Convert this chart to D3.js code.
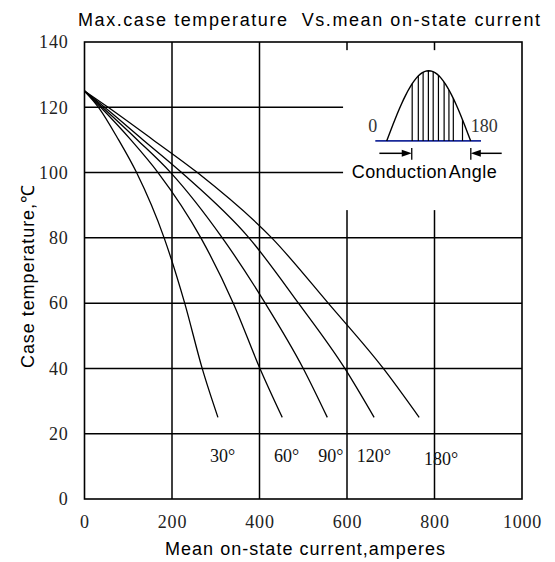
<!DOCTYPE html>
<html><head><meta charset="utf-8">
<script src="https://cdn.jsdelivr.net/npm/d3@7"></script>
<style>
body{margin:0;background:#fff}
.sans{font-family:"Liberation Sans",Arial,Helvetica,sans-serif}
.serif{font-family:"Liberation Serif","Times New Roman",serif}
</style>
</head><body>
<svg id="c" width="555" height="562"></svg>
<script>
// ---- data ----
const angleLabels = ["30°", "60°", "90°", "120°", "180°"];
const caseTemps   = [125, 120, 110, 100, 80, 60, 40, 25];
const current30   = [0, 32, 78, 119, 182, 229, 269, 305];
const current60   = [0, 37, 106, 168, 266, 340, 401, 452];
const current90   = [0, 41, 121, 197, 315, 413, 500, 555];
const current120  = [0, 46, 134, 222, 376, 489, 595, 662];
const current180  = [0, 54, 157, 258, 428, 557, 683, 765];
const xTickValues = [0, 200, 400, 600, 800, 1000];
const yTickValues = [0, 20, 40, 60, 80, 100, 120, 140];
const titleText  = "Max.case temperature  Vs.mean on-state current";
const xTitleText = "Mean on-state current,amperes";
const yTitleText = "Case temperature,℃";

const seriesCurrents = [current30, current60, current90, current120, current180];

// ---- layout ----
const svg = d3.select("#c");
const x = d3.scaleLinear().domain([0, 1000]).range([84.5, 522]);
const y = d3.scaleLinear().domain([0, 140]).range([499, 42]);

// grid
const g = svg.append("g");
g.selectAll("line.v").data(xTickValues.slice(1, -1)).join("line")
  .attr("x1", d => x(d)).attr("x2", d => x(d))
  .attr("y1", y(140)).attr("y2", y(0))
  .attr("stroke", "#000").attr("stroke-width", 1.5);
g.selectAll("line.h").data(yTickValues.slice(1, -1)).join("line")
  .attr("x1", x(0)).attr("x2", x(1000))
  .attr("y1", d => y(d)).attr("y2", d => y(d))
  .attr("stroke", "#000").attr("stroke-width", 1.5);

// white area behind inset
svg.append("rect")
  .attr("x", x(591)).attr("y", y(137.5))
  .attr("width", x(1000) - x(591)).attr("height", y(88.5) - y(137.5))
  .attr("fill", "#fff");

// frame
svg.append("rect")
  .attr("x", x(0)).attr("y", y(140))
  .attr("width", x(1000) - x(0)).attr("height", y(0) - y(140))
  .attr("fill", "none").attr("stroke", "#000").attr("stroke-width", 1.6);

// axes (labels only)
const xAxis = d3.axisBottom(x).tickValues(xTickValues).tickSize(0).tickPadding(16).tickFormat(d3.format("d"));
const yAxis = d3.axisLeft(y).tickValues(yTickValues).tickSize(0).tickPadding(16).tickFormat(d3.format("d"));
const gx = svg.append("g").attr("transform", `translate(0,${y(0)})`).call(xAxis);
const gy = svg.append("g").attr("transform", `translate(${x(0)},0)`).call(yAxis);
[gx, gy].forEach(a => {
  a.select(".domain").remove();
  a.selectAll("text").attr("class", "serif").attr("font-size", 18)
    .attr("fill", "#222").style("letter-spacing", "0.8px");
});

// curves
const line = d3.line().x(d => x(d[0])).y(d => y(d[1])).curve(d3.curveMonotoneX);
seriesCurrents.forEach(arr => {
  svg.append("path")
    .datum(arr.map((c, i) => [c, caseTemps[i]]))
    .attr("d", line)
    .attr("fill", "none").attr("stroke", "#000").attr("stroke-width", 1.3);
});

// angle labels
const labelCurrent = [287, 433, 534, 622, 776];
const labelTemp    = [11.4, 11.4, 11.4, 11.4, 10.4];
svg.selectAll("text.ang").data(angleLabels).join("text")
  .attr("class", "serif").attr("font-size", 18).attr("fill", "#111")
  .attr("x", (d, i) => x(labelCurrent[i])).attr("y", (d, i) => y(labelTemp[i]))
  .text(d => d);

// titles
svg.append("text").attr("class", "sans").attr("font-size", 18).attr("fill", "#000")
  .attr("x", 78).attr("y", 26).attr("textLength", 462).attr("lengthAdjust", "spacing")
  .style("white-space", "pre").text(titleText);
svg.append("text").attr("class", "sans").attr("font-size", 18).attr("fill", "#000")
  .attr("x", 165).attr("y", 555).attr("textLength", 280).attr("lengthAdjust", "spacing")
  .text(xTitleText);
svg.append("text").attr("class", "sans").attr("font-size", 18).attr("fill", "#000")
  .attr("transform", "translate(34,368) rotate(-90)")
  .attr("textLength", 183).attr("lengthAdjust", "spacing")
  .text(yTitleText);

// ---- inset: conduction angle sketch ----
const humpStart = 690.7, humpEnd = 882.7, humpBase = 109.7, humpPeak = 131.2;
const hatchCurrents = [749, 763, 774, 786, 797, 809, 822, 833, 843, 864];
const humpY = c => humpBase + (humpPeak - humpBase) * Math.sin(Math.PI * (c - humpStart) / (humpEnd - humpStart));
const ins = svg.append("g");
ins.append("line").attr("x1", x(664.7)).attr("x2", x(906.3))
  .attr("y1", y(humpBase)).attr("y2", y(humpBase))
  .attr("stroke", "#1a2a9a").attr("stroke-width", 1.6);
ins.append("path")
  .datum(d3.range(0, 41).map(k => humpStart + (humpEnd - humpStart) * k / 40))
  .attr("d", d3.line().x(c => x(c)).y(c => y(humpY(c))))
  .attr("fill", "none").attr("stroke", "#000").attr("stroke-width", 1.4);
ins.selectAll("line.hatch").data(hatchCurrents).join("line")
  .attr("x1", c => x(c)).attr("x2", c => x(c))
  .attr("y1", y(humpBase)).attr("y2", c => y(humpY(c)))
  .attr("stroke", "#000").attr("stroke-width", 1.2);
ins.append("text").attr("class", "serif").attr("font-size", 18).attr("fill", "#333")
  .attr("x", x(659)).attr("y", y(112.5)).attr("text-anchor", "middle").text("0");
ins.append("text").attr("class", "serif").attr("font-size", 18).attr("fill", "#333")
  .attr("x", x(883)).attr("y", y(112.5)).text("180");
// arrows
const arrowT = 105.9;
const ay = y(arrowT);
ins.append("line").attr("x1", x(674)).attr("x2", x(748) - 8).attr("y1", ay).attr("y2", ay)
  .attr("stroke", "#000").attr("stroke-width", 1.5);
ins.append("path").attr("d", `M${x(748)},${ay} l-10,-3.5 l0,7 z`).attr("fill", "#000");
ins.append("line").attr("x1", x(748)).attr("x2", x(748)).attr("y1", y(107.5)).attr("y2", y(103.9))
  .attr("stroke", "#000").attr("stroke-width", 1.3);
ins.append("line").attr("x1", x(953.6)).attr("x2", x(883) + 8).attr("y1", ay).attr("y2", ay)
  .attr("stroke", "#000").attr("stroke-width", 1.5);
ins.append("path").attr("d", `M${x(883)},${ay} l10,-3.5 l0,7 z`).attr("fill", "#000");
ins.append("line").attr("x1", x(883)).attr("x2", x(883)).attr("y1", y(107.5)).attr("y2", y(103.9))
  .attr("stroke", "#000").attr("stroke-width", 1.3);
ins.append("text").attr("class", "sans").attr("font-size", 18).attr("fill", "#000")
  .attr("x", x(610.7)).attr("y", y(98.2)).attr("textLength", 145).attr("lengthAdjust", "spacing")
  .style("word-spacing", "-3px").text("Conduction Angle");
</script>
</body></html>
